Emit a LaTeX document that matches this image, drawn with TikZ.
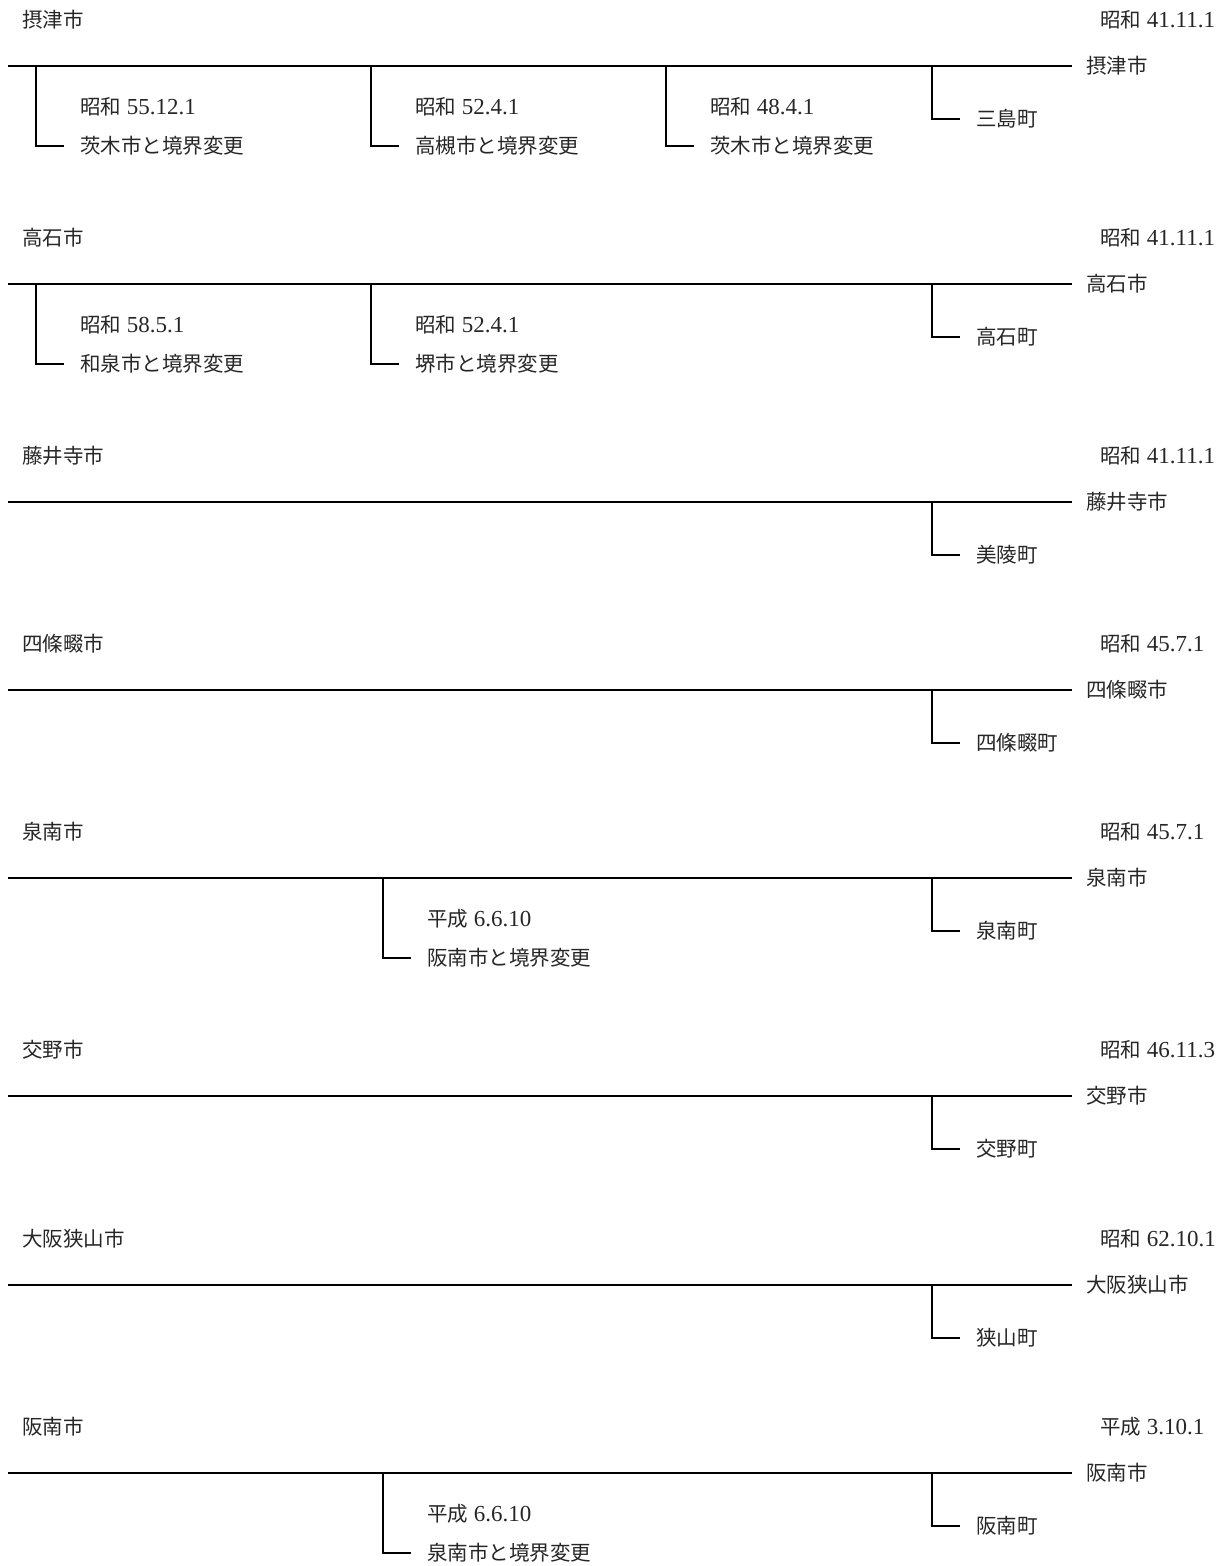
\documentclass[tikz,border=0pt]{standalone}
\usepackage{fontspec}
\setmainfont{Liberation Serif}[Scale=1.12]
\newfontfamily\cjk{Noto Sans CJK JP}
\newcommand\jp[1]{{\cjk #1}}
\tikzset{
  txt/.style={anchor=west,inner sep=0pt,text=black!85,font=\fontsize{20.5}{24}\selectfont},
  ln/.style={line width=1.8pt}
}
\newcommand\Blk[5]{%
  \node[txt] (#1title) at (22,#2-46) {\jp{#3}};
  \node[txt] (#1date) at (1100,#2-46) {#4};
  \coordinate (#1s) at (8,#2);
  \node[txt] (#1city) at (1086,#2) {\jp{#3}};
  \coordinate (#1j) at (932,#2);
  \node[txt] (#1town) at (976,#2+53) {\jp{#5}};
  \draw[ln] (#1s) -- ([xshift=-14pt]#1city.west);
  \draw[ln] (#1j) -- (#1j |- #1town.west) -- ([xshift=-16pt]#1town.west);
}
\newcommand\Br[6]{% id, n, x, L, date, label
  \coordinate (#1b#2) at (#3,#4);
  \node[txt] (#1d#2) at (#3+44,#4+41) {#5};
  \node[txt] (#1l#2) at (#3+44,#4+80) {\jp{#6}};
  \draw[ln] (#1b#2) -- (#1b#2 |- #1l#2.west) -- ([xshift=-16pt]#1l#2.west);
}
\begin{document}
\begin{tikzpicture}[x=1pt,y=-1pt]
\useasboundingbox (0,0) rectangle (1227,1566);
% 1
\Blk{a}{66}{摂津市}{\jp{昭和} 41.11.1}{三島町}
\Br{a}{1}{36}{66}{\jp{昭和} 55.12.1}{茨木市と境界変更}
\Br{a}{2}{371}{66}{\jp{昭和} 52.4.1}{高槻市と境界変更}
\Br{a}{3}{666}{66}{\jp{昭和} 48.4.1}{茨木市と境界変更}
% 2
\Blk{b}{284}{高石市}{\jp{昭和} 41.11.1}{高石町}
\Br{b}{1}{36}{284}{\jp{昭和} 58.5.1}{和泉市と境界変更}
\Br{b}{2}{371}{284}{\jp{昭和} 52.4.1}{堺市と境界変更}
% 3
\Blk{c}{502}{藤井寺市}{\jp{昭和} 41.11.1}{美陵町}
% 4
\Blk{d}{690}{四條畷市}{\jp{昭和} 45.7.1}{四條畷町}
% 5
\Blk{e}{878}{泉南市}{\jp{昭和} 45.7.1}{泉南町}
\Br{e}{1}{383}{878}{\jp{平成} 6.6.10}{阪南市と境界変更}
% 6
\Blk{f}{1096}{交野市}{\jp{昭和} 46.11.3}{交野町}
% 7
\Blk{g}{1285}{大阪狭山市}{\jp{昭和} 62.10.1}{狭山町}
% 8
\Blk{h}{1473}{阪南市}{\jp{平成} 3.10.1}{阪南町}
\Br{h}{1}{383}{1473}{\jp{平成} 6.6.10}{泉南市と境界変更}
\end{tikzpicture}
\end{document}
